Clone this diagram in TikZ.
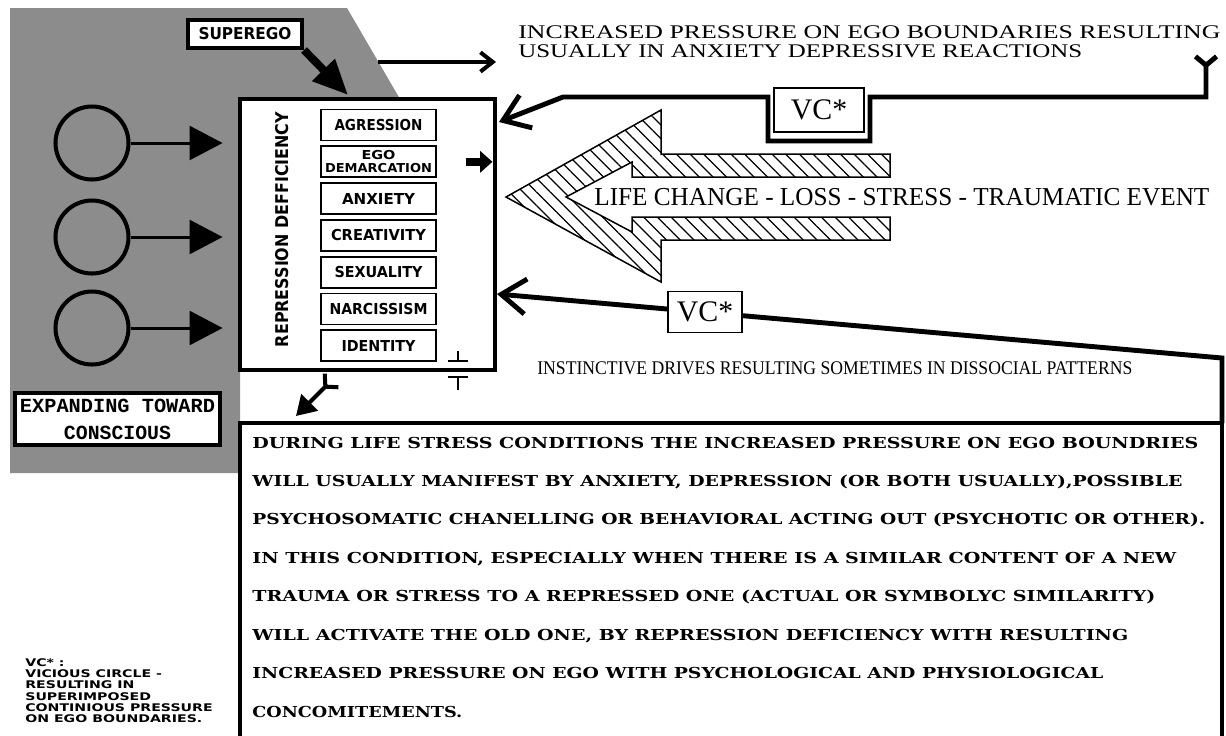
\documentclass[tikz,border=0pt]{standalone}
\usepackage{fontspec}
\usepackage{graphicx}
\setmainfont{Liberation Serif}
\setmonofont{Liberation Mono}
\newfontfamily\platefont{DejaVu Sans}
\newfontfamily\parafont{DejaVu Serif}
\usetikzlibrary{arrows.meta,patterns.meta}

\newdimen\pxu \pxu=0.02cm
\newcommand\fitw[2]{\resizebox{#1\pxu}{\height}{#2}}

\tikzset{
  bigbox/.style={draw, line width=2.8pt},
  drivebox/.style={draw, line width=1.1pt, fill=white, minimum width=2.3cm, minimum height=0.62cm, inner sep=0pt, font=\platefont\bfseries\fontsize{8.6}{9}\selectfont},
  ring/.style={draw, circle, line width=2.3pt, minimum size=1.46cm, inner sep=0pt},
  inarrow/.style={line width=1.7pt, -{Triangle[length=18.8pt, width=19.3pt]}, shorten >=0.3cm},
  vcline/.style={line width=2.8pt, line join=miter},
  vcbox/.style={draw, line width=1.1pt, fill=white, inner sep=0pt, font=\fontsize{17}{17}\selectfont},
  txt/.style={anchor=base west, inner sep=0pt},
}

\begin{document}
\begin{tikzpicture}[x=0.02cm, y=-0.02cm]
\useasboundingbox[fill=white] (0,0) rectangle (1226,735);

% shaded unconscious area
\fill[black!45] (10,8) -- (347,8) -- (400,99) -- (240,99) -- (240,473) -- (10,473) -- cycle;

% repression box
\node[bigbox, fill=white, minimum width=5.1cm, minimum height=5.42cm] (main) at (367.5,234.5) {};
\node[rotate=90, inner sep=0pt, font=\platefont\bfseries\fontsize{10}{10}\selectfont] (rd) at (282,229.5) {\fitw{235}{REPRESSION DEFFICIENCY}};
\foreach \i/\nm/\txt/\w in {0/agr/AGRESSION/88, 2/anx/ANXIETY/73, 3/cre/CREATIVITY/95, 4/sex/SEXUALITY/88, 5/nar/NARCISSISM/98, 6/ide/IDENTITY/74}
  \node[drivebox] (\nm) at (378.5,125+36.8*\i) {\fitw{\w}{\txt}};
\node[drivebox, align=center, font=\platefont\bfseries\fontsize{7}{7.4}\selectfont] (ego) at (378.5,161.8) {\fitw{34}{EGO}\\\fitw{107}{DEMARCATION}};
\draw[line width=4.5pt, -{Triangle[length=7pt, width=12pt]}] ([xshift=0.58cm]ego.east) -- ([xshift=-0.1cm]ego.east -| main.east);

% gap marks
\draw[line width=1.4pt, -{Bar[width=11pt]}] (458,351) -- (458,362);
\draw[line width=1.4pt, -{Bar[width=11pt]}] (458,390) -- (458,376);

% superego
\node[draw, line width=2.3pt, fill=white, minimum width=2.28cm, minimum height=0.56cm, inner sep=0pt, font=\platefont\bfseries\fontsize{9.3}{10}\selectfont] (sup) at (245,34) {\fitw{93}{SUPEREGO}};
\coordinate (supin) at (348,95);
\draw[line width=4.5pt, -{Triangle[length=20pt, width=17pt]}] (sup.south east) -- (supin);

% drives
\foreach \y [count=\i] in {143,237,328} {
  \node[ring] (c\i) at (92,\y) {};
  \draw[inarrow] (c\i) -- (c\i -| main.west);
}
\node[draw, line width=2.3pt, fill=white, minimum width=4.1cm, minimum height=1.04cm, align=center, inner sep=0pt, font=\ttfamily\bfseries\fontsize{11.4}{15.4}\selectfont] (exp) at (117.5,419) {\fitw{195}{EXPANDING TOWARD}\\\fitw{107}{CONSCIOUS}};

% pressure on ego boundaries
\coordinate (gedge) at (378,62);
\coordinate (hd) at (496,62);
\draw[line width=2.3pt, -{Straight Barb[length=7pt, width=11pt]}] (gedge) -- (hd);
\node[txt, font=\fontsize{11}{11}\selectfont] (inc1) at (518,38.5) {\fitw{702}{INCREASED PRESSURE ON EGO BOUNDARIES RESULTING}};
\node[txt, font=\fontsize{11}{11}\selectfont] (inc2) at (518,57) {\fitw{564}{USUALLY IN ANXIETY DEPRESSIVE REACTIONS}};

% upper vicious circle
\coordinate (fork) at (1206,54);
\coordinate (in1) at (499,122);
\draw[vcline, arrows={Straight Barb[reversed, length=5pt, width=12pt]-Straight Barb[length=14pt, width=20pt]}] (fork) -- (1206,97) -- (870,97) -- (870,141) -- (768,141) -- (768,97) -- (563,97) -- (in1);
\node[vcbox, minimum width=1.8cm, minimum height=0.88cm] (vc1) at (819,110) {VC*};

% life change arrow
\draw[line width=0.85pt, pattern={Lines[angle=-45, distance=5.5pt, line width=0.7pt]}] (890,154) -- (661,154) -- (661,110) -- (506,197) -- (661,282) -- (661,240) -- (890,240) -- (890,217) -- (632,217) -- (632,232) -- (566,197) -- (632,162) -- (632,177) -- (890,177) -- cycle;
\node[txt, font=\fontsize{14.7}{15}\selectfont] (life) at (594,205) {\fitw{615}{LIFE CHANGE - LOSS - STRESS - TRAUMATIC EVENT}};

% text frame
\coordinate (fnw) at (240,423);
\coordinate (fne) at (1222,423);
\draw[line width=2.3pt] (240,740) -- (fnw) -- (fne) -- (1222,740);

% lower vicious circle
\coordinate (bend) at (1222,358);
\coordinate (in2) at (497,294);
\draw[vcline, -{Straight Barb[length=14pt, width=20pt]}] (fne) -- (bend) -- (in2);
\node[vcbox, minimum width=1.48cm, minimum height=0.82cm] (vc2) at (705,312) {VC*};
\node[txt, font=\fontsize{11}{11}\selectfont] (inst) at (537,374) {\fitw{595}{INSTINCTIVE DRIVES RESULTING SOMETIMES IN DISSOCIAL PATTERNS}};

% arrow into the text frame
\coordinate (dtail) at (333,379);
\coordinate (dtip) at (296,416);
\draw[line width=2.3pt, arrows={Straight Barb[reversed, length=5pt, width=11pt]-Triangle[length=11pt, width=13pt]}] (dtail) -- (dtip);

% explanation
\begin{scope}[every node/.style={txt, font=\parafont\bfseries\fontsize{8.6}{9}\selectfont}]
\node (p1) at (252,448) {\fitw{946}{DURING LIFE STRESS CONDITIONS THE INCREASED PRESSURE ON EGO BOUNDRIES}};
\node (p2) at (252,486.4) {\fitw{930}{WILL USUALLY MANIFEST BY ANXIETY, DEPRESSION (OR BOTH USUALLY),POSSIBLE}};
\node (p3) at (252,524.9) {\fitw{953}{PSYCHOSOMATIC CHANELLING OR BEHAVIORAL ACTING OUT (PSYCHOTIC OR OTHER).}};
\node (p4) at (252,563.3) {\fitw{924}{IN THIS CONDITION, ESPECIALLY WHEN THERE IS A SIMILAR CONTENT OF A NEW}};
\node (p5) at (252,601.7) {\fitw{903}{TRAUMA OR STRESS TO A REPRESSED ONE (ACTUAL OR SYMBOLYC SIMILARITY)}};
\node (p6) at (252,640.2) {\fitw{876}{WILL ACTIVATE THE OLD ONE, BY REPRESSION DEFICIENCY WITH RESULTING}};
\node (p7) at (252,678.6) {\fitw{851}{INCREASED PRESSURE ON EGO WITH PSYCHOLOGICAL AND PHYSIOLOGICAL}};
\node (p8) at (252,717) {\fitw{210}{CONCOMITEMENTS.}};
\end{scope}

% legend
\foreach \t [count=\i from 0] in {VC* :, VICIOUS CIRCLE -, RESULTING IN, SUPERIMPOSED, CONTINIOUS PRESSURE, ON EGO BOUNDARIES.}
  \node[txt, font=\platefont\bfseries\fontsize{6}{6}\selectfont] (leg\i) at (25,666.5+11.2*\i) {\scalebox{1.34}[1]{\t}};
\end{tikzpicture}
\end{document}
